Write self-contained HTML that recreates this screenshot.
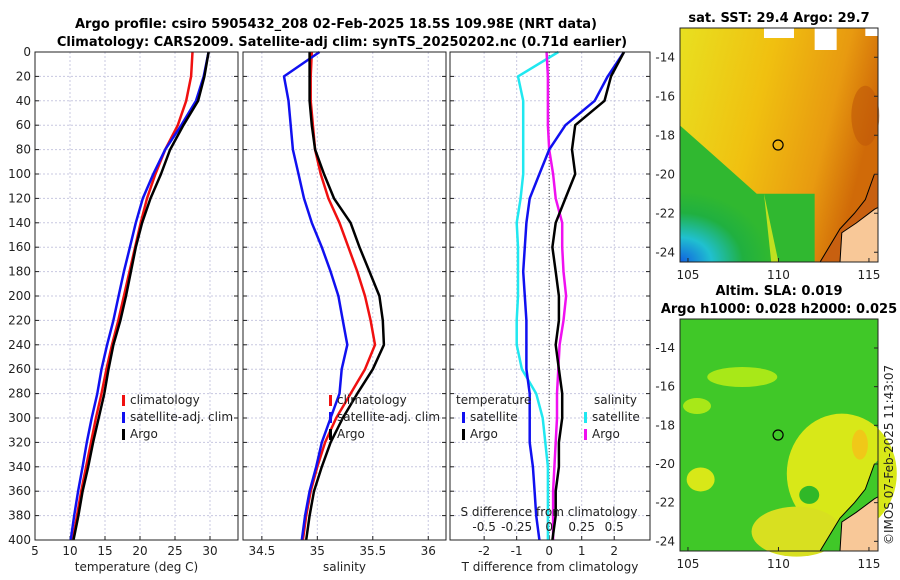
<!DOCTYPE html>
<html><head><meta charset="utf-8"><style>
body{margin:0;background:#fff;width:900px;height:580px;overflow:hidden;font-family:"Liberation Sans","DejaVu Sans",sans-serif}
svg{display:block}
text{font-family:"DejaVu Sans","Liberation Sans",sans-serif;font-size:12px;fill:#222}
.t{font-weight:bold;font-size:13px;fill:#000}
</style></head><body>
<svg id="c" width="900" height="580">
<defs>
<radialGradient id="gBlue" cx="0" cy="1" r="0.9"><stop offset="0" stop-color="#1060e0"/><stop offset="0.35" stop-color="#20c0d0"/><stop offset="0.7" stop-color="#20b040" stop-opacity="1"/><stop offset="1" stop-color="#20b040" stop-opacity="0"/></radialGradient>
<linearGradient id="gSst" x1="0" y1="0" x2="1" y2="0.3"><stop offset="0" stop-color="#e8e020"/><stop offset="0.45" stop-color="#f0c010"/><stop offset="0.8" stop-color="#e89a10"/><stop offset="1" stop-color="#d06a08"/></linearGradient>
</defs>
<text class="t" x="336" y="28" text-anchor="middle">Argo profile: csiro 5905432_208 02-Feb-2025 18.5S 109.98E (NRT data)</text>
<text class="t" x="342" y="46" text-anchor="middle">Climatology: CARS2009. Satellite-adj clim: synTS_20250202.nc (0.71d earlier)</text>
<g id="p1"></g>
<g id="p2"></g>
<g id="p3"></g>
<g id="m1"></g>
<g id="m2"></g>
<text x="893" y="545" transform="rotate(-90 893 545)">©IMOS 07-Feb-2025 11:43:07</text>
</svg>
<script>
const depths=[0,20,40,60,80,100,120,140,160,180,200,220,240,260,280,300,320,340,360,380,400];
const climT=[27.5,27.3,26.6,25.4,23.6,22.2,21.0,20.1,19.3,18.5,17.7,16.9,16.0,15.2,14.5,13.7,13.0,12.3,11.6,11.0,10.4];
const satT=[29.8,29.1,28.0,25.9,23.6,21.9,20.4,19.4,18.55,17.7,16.95,16.2,15.3,14.5,13.9,13.1,12.4,11.8,11.15,10.6,10.1];
const argoT=[29.8,29.2,28.3,26.2,24.3,23.0,21.5,20.3,19.4,18.7,18.0,17.2,16.2,15.5,14.9,14.1,13.3,12.6,11.8,11.2,10.5];
const climS=[34.95,34.94,34.94,34.96,34.98,35.03,35.10,35.20,35.28,35.36,35.43,35.48,35.52,35.43,35.30,35.17,35.07,35.00,34.94,34.90,34.87];
const satS=[35.02,34.70,34.74,34.76,34.78,34.83,34.88,34.95,35.04,35.12,35.19,35.23,35.27,35.22,35.20,35.12,35.04,34.99,34.93,34.89,34.86];
const argoS=[34.93,34.93,34.93,34.95,34.98,35.06,35.15,35.30,35.38,35.47,35.56,35.59,35.60,35.50,35.36,35.23,35.12,35.04,34.97,34.93,34.90];
const yTicks=[0,20,40,60,80,100,120,140,160,180,200,220,240,260,280,300,320,340,360,380,400];
const tTicks=[5,10,15,20,25,30];
const sTicks=[34.5,35,35.5,36];
const dTTicks=[-2,-1,0,1,2];
const dSTickLabels=["-0.5","-0.25","0","0.25","0.5"];
const lonTicks=[105,110,115];
const latTicks=[-14,-16,-18,-20,-22,-24];

const NS="http://www.w3.org/2000/svg";
function mk(p,tag,a){const e=document.createElementNS(NS,tag);for(const k in a)e.setAttribute(k,a[k]);p.appendChild(e);return e;}
const Y0=52,Y1=540;
const yS=d=>Y0+(d/400)*(Y1-Y0);

function panel(g,x0,x1,xmin,xmax,xt,xl,label,showY){
  const xS=v=>x0+(v-xmin)/(xmax-xmin)*(x1-x0);
  mk(g,'rect',{x:x0,y:Y0,width:x1-x0,height:Y1-Y0,fill:'#fff'});
  xt.forEach(v=>{mk(g,'line',{x1:xS(v),x2:xS(v),y1:Y0,y2:Y1,stroke:'#c8c8e0','stroke-dasharray':'2,2','stroke-width':1});
    mk(g,'line',{x1:xS(v),x2:xS(v),y1:Y1,y2:Y1-4,stroke:'#222'});});
  yTicks.forEach(d=>{mk(g,'line',{x1:x0,x2:x1,y1:yS(d),y2:yS(d),stroke:'#c8c8e0','stroke-dasharray':'2,2'});
    mk(g,'line',{x1:x0,x2:x0+4,y1:yS(d),y2:yS(d),stroke:'#222'});mk(g,'line',{x1:x1,x2:x1-4,y1:yS(d),y2:yS(d),stroke:'#222'});
    if(showY){const t=mk(g,'text',{x:x0-4,y:yS(d)+4,'text-anchor':'end'});t.textContent=d;
      
      }});
  if(xl){xt.forEach((v,i)=>{const t=mk(g,'text',{x:xS(v),y:Y1+15,'text-anchor':'middle'});t.textContent=xl[i];
      
      });}
  const t=mk(g,'text',{x:(x0+x1)/2,y:Y1+31,'text-anchor':'middle'});t.textContent=label;
  
  
  return xS;
}
function line(g,xS,vals,col,name,w){
  const pts=vals.map((v,i)=>xS(v).toFixed(1)+','+yS(depths[i]).toFixed(1)).join(' ');
  const p=mk(g,'polyline',{points:pts,fill:'none',stroke:col,'stroke-width':w||2.5,'stroke-linejoin':'round'});
  
  
}
function box(g,x0,x1){mk(g,'rect',{x:x0,y:Y0,width:x1-x0,height:Y1-Y0,fill:'none',stroke:'#222','stroke-width':1});}
function legend(g,x,y,items){items.forEach((it,i)=>{mk(g,'rect',{x:x,y:y+i*17-9,width:3,height:11,fill:it[1]});
  const t=mk(g,'text',{x:x+8,y:y+i*17});t.textContent=it[0];
  
  });}

const g1=document.getElementById('p1');
const xT=panel(g1,35,238,5,34,tTicks,tTicks.map(String),'temperature (deg C)',true);
line(g1,xT,climT,'#f01010','climatology-line');
line(g1,xT,satT,'#1010f0','satellite-line');
line(g1,xT,argoT,'#000','argo-line');
box(g1,35,238);
legend(g1,122,404,[['climatology','#f01010'],['satellite-adj. clim','#1010f0'],['Argo','#000']]);

const g2=document.getElementById('p2');
const xSa=panel(g2,243,446,34.33,36.16,sTicks,['34.5','35','35.5','36'],'salinity',false);
mk(g2,'line',{x1:xSa(34.94),x2:xSa(34.94),y1:Y0,y2:Y0+60,stroke:'#f8b040','stroke-width':1});
line(g2,xSa,climS,'#f01010','climatology-salinity-line');
line(g2,xSa,satS,'#1010f0','satellite-salinity-line');
line(g2,xSa,argoS,'#000','argo-salinity-line');
box(g2,243,446);
legend(g2,329,404,[['climatology','#f01010'],['satellite-adj. clim','#1010f0'],['Argo','#000']]);

const g3=document.getElementById('p3');
const xD=panel(g3,450,650,-3.05,3.1,dTTicks,dTTicks.map(String),'T difference from climatology',false);
const sD=v=>xD(v*4);
mk(g3,'line',{x1:xD(0),x2:xD(0),y1:Y0,y2:Y1,stroke:'#444','stroke-dasharray':'1,2'});
const tSat=satT.map((v,i)=>v-climT[i]), tArgo=argoT.map((v,i)=>v-climT[i]);
const sSat=satS.map((v,i)=>(v-climS[i])*4), sArgo=argoS.map((v,i)=>(v-climS[i])*4);
line(g3,xD,sSat,'#20e8f0','salinity-satellite-diff');
line(g3,xD,sArgo,'#f010f0','salinity-argo-diff');
line(g3,xD,tSat,'#1010f0','temperature-satellite-diff');
line(g3,xD,tArgo,'#000','temperature-argo-diff');
box(g3,450,650);
[-0.5,-0.25,0,0.25,0.5].forEach((v,i)=>{const t=mk(g3,'text',{x:sD(v),y:531,'text-anchor':'middle'});t.textContent=dSTickLabels[i];
  
  });
let st=mk(g3,'text',{x:549,y:516,'text-anchor':'middle'});st.textContent='S difference from climatology';
let lt=mk(g3,'text',{x:456,y:404});lt.textContent='temperature';
let ls=mk(g3,'text',{x:594,y:404});ls.textContent='salinity';
legend(g3,462,421,[['satellite','#1010f0'],['Argo','#000']]);
legend(g3,584,421,[['satellite','#20e8f0'],['Argo','#f010f0']]);

function map(g,y0,y1,title,kind){
  const x0=680,x1=878,lonS=v=>x0+(v-104.56)/(115.5-104.56)*(x1-x0),latS=v=>y0+(-12.5-v)/(12)*(y1-y0);
  if(kind==='sst'){
    mk(g,'rect',{x:x0,y:y0,width:x1-x0,height:y1-y0,fill:'url(#gSst)'});
    mk(g,'path',{d:`M${x0} ${latS(-17.5)} Q${lonS(107)} ${latS(-19.5)} ${lonS(108.8)} ${latS(-21)} L${lonS(112)} ${latS(-21)} L${lonS(112)} ${latS(-24.5)} L${x0} ${y1} Z`,fill:'#30b830'});
    mk(g,'rect',{x:x0,y:latS(-20.5),width:100,height:y1-latS(-20.5),fill:'url(#gBlue)'});
    mk(g,'path',{d:`M${lonS(109.2)} ${latS(-21)} L${lonS(110)} ${latS(-24.5)} L${lonS(109.6)} ${latS(-24.5)} Z`,fill:'#c0e020'});
    mk(g,'rect',{x:lonS(109.2),y:y0,width:30,height:10,fill:'#fff'});
    mk(g,'rect',{x:lonS(112),y:y0,width:22,height:22,fill:'#fff'});
    mk(g,'rect',{x:lonS(114.8),y:y0,width:15,height:8,fill:'#fff'});
    mk(g,'ellipse',{cx:lonS(114.8),cy:latS(-17),rx:14,ry:30,fill:'#c05808',opacity:0.6});
  }else{
    mk(g,'rect',{x:x0,y:y0,width:x1-x0,height:y1-y0,fill:'#40c828'});
    mk(g,'ellipse',{cx:lonS(113.5),cy:latS(-20.5),rx:55,ry:60,fill:'#d8e818'});
    mk(g,'ellipse',{cx:lonS(111),cy:latS(-23.5),rx:45,ry:25,fill:'#d8e020'});
    mk(g,'ellipse',{cx:lonS(108),cy:latS(-15.5),rx:35,ry:10,fill:'#a8e818'});
    mk(g,'ellipse',{cx:lonS(105.7),cy:latS(-20.8),rx:14,ry:12,fill:'#d8e818'});
    mk(g,'ellipse',{cx:lonS(105.5),cy:latS(-17),rx:14,ry:8,fill:'#a8e818'});
    mk(g,'ellipse',{cx:lonS(111.7),cy:latS(-21.6),rx:10,ry:9,fill:'#30b828'});
    mk(g,'ellipse',{cx:lonS(114.5),cy:latS(-19),rx:8,ry:15,fill:'#f0c818'});
  }
  mk(g,'path',{d:`M${lonS(112.3)} ${y1} L${lonS(113.4)} ${latS(-22.8)} L${lonS(114.2)} ${latS(-22)} L${lonS(114.8)} ${latS(-21.3)} L${lonS(115.3)} ${latS(-20)} L${x1} ${latS(-19.8)} L${x1} ${y1} Z`,fill:kind==='sst'?'#c86010':'#40c828'});
  mk(g,'path',{d:`M${lonS(113.4)} ${y1} L${lonS(113.5)} ${latS(-23)} L${lonS(114.3)} ${latS(-22.5)} L${lonS(115.3)} ${latS(-21.8)} L${x1} ${latS(-21.7)} L${x1} ${y1} Z`,fill:'#f8c898',stroke:'#000','stroke-width':1});
  mk(g,'path',{d:`M${lonS(112.3)} ${y1} L${lonS(113.4)} ${latS(-22.8)} L${lonS(114.2)} ${latS(-22)} L${lonS(114.8)} ${latS(-21.3)} L${lonS(115.3)} ${latS(-20)}`,fill:'none',stroke:'#000','stroke-width':1});
  mk(g,'circle',{cx:lonS(109.98),cy:latS(-18.5),r:5,fill:'none',stroke:'#000','stroke-width':1.2});
  mk(g,'rect',{x:x0,y:y0,width:x1-x0,height:y1-y0,fill:'none',stroke:'#222'});
  lonTicks.forEach(v=>{const t=mk(g,'text',{x:lonS(v),y:y1+17,'text-anchor':'middle'});t.textContent=v;
    
    
    mk(g,'line',{x1:lonS(v),x2:lonS(v),y1:y1,y2:y1-4,stroke:'#222'});});
  latTicks.forEach(v=>{const t=mk(g,'text',{x:x0-5,y:latS(v)+4,'text-anchor':'end'});t.textContent=v;
    
    
    mk(g,'line',{x1:x1,x2:x1-4,y1:latS(v),y2:latS(v),stroke:'#222'});});
  title.forEach((s,i)=>{const t=mk(g,'text',{x:779,y:y0-(title.length-1-i)*18-6,'text-anchor':'middle','class':'t'});t.textContent=s;
    
    });
}
map(document.getElementById('m1'),28,262,['sat. SST: 29.4 Argo: 29.7'],'sst');
map(document.getElementById('m2'),319,551,['Altim. SLA: 0.019','Argo h1000: 0.028 h2000: 0.025'],'sla');
</script>
</body></html>
